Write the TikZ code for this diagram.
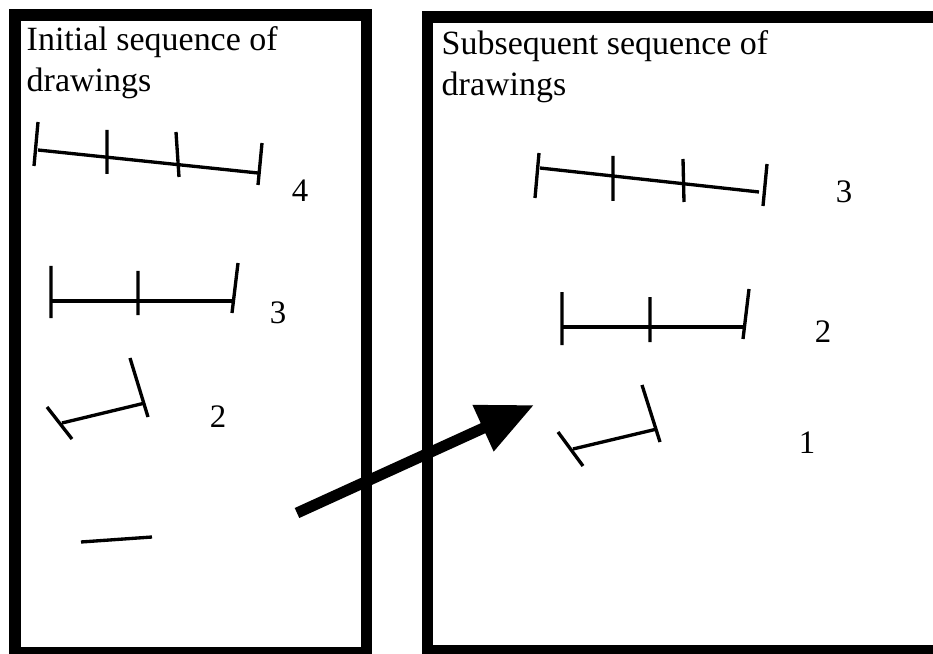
\documentclass[tikz,border=0pt]{standalone}
\usepackage{fontspec}
\setmainfont{Liberation Serif}
\usepackage{tikz}
\usetikzlibrary{arrows.meta}

\begin{document}
\begin{tikzpicture}[x=0.03cm, y=-0.03cm,
    panel/.style={line width=0.35cm, line join=miter},
    seg/.style={line width=0.1cm},
    head/.style={font=\fontsize{29}{35}\selectfont, align=left, inner sep=0pt, anchor=north west},
    num/.style={font=\fontsize{28}{34}\selectfont, inner sep=0pt},
    bigarrow/.style={line width=0.33cm, -{Triangle[length=1.68cm, width=1.44cm]}}]
    % Page frame (the right panel runs off the edge)
    \useasboundingbox (0,0) rectangle (933,654);
    \clip (0,0) rectangle (933,654);

    % Two panels
    \draw[panel] (15,15) rectangle (366.5,653);
    \draw[panel] (427.5,17) rectangle (960,651);

    % Headings
    \node[head] (initial) at (26.5,26) {Initial sequence of\\drawings};
    \node[head] (subsequent) at (441.5,30) {Subsequent sequence of\\drawings};

    % Left panel: sketches from the longest down to a bare line
    \draw[seg] (38,150) -- (258,173);
    \draw[seg] (38,122) -- (34,166) (107,130) -- (107,174)
               (176,132) -- (179,177) (262,143) -- (258,185);
    \node[num] (lfour) at (300,191) {4};

    \draw[seg] (51,301) -- (232,301);
    \draw[seg] (51,266) -- (51,318) (138,271) -- (138,315) (238,263) -- (232,313);
    \node[num] (lthree) at (278,313) {3};

    \draw[seg] (62,423) -- (145,403);
    \draw[seg] (47,407) -- (72,439) (130,358) -- (148,417);
    \node[num] (ltwo) at (218,417) {2};

    \draw[seg] (81,542) -- (152,537);

    % Right panel: the same sketches, one step shorter
    \draw[seg] (540,168) -- (759,192);
    \draw[seg] (539,153) -- (535,198) (613,156) -- (613,201)
               (683,159) -- (684,202) (767,164) -- (763,206);
    \node[num] (rthree) at (844,192) {3};

    \draw[seg] (562,327) -- (744,327);
    \draw[seg] (562,292) -- (562,345) (650,297) -- (650,342) (749,289) -- (743,339);
    \node[num] (rtwo) at (823,332) {2};

    \draw[seg] (573,449) -- (657,429);
    \draw[seg] (558,432) -- (583,466) (642,385) -- (660,442);
    \node[num] (rone) at (807,443) {1};

    % Big arrow across the gap
    \coordinate (arrowtail) at (297,513);
    \coordinate (arrowtip) at (534,405);
    \draw[bigarrow] (arrowtail) -- (arrowtip);
\end{tikzpicture}
\end{document}
